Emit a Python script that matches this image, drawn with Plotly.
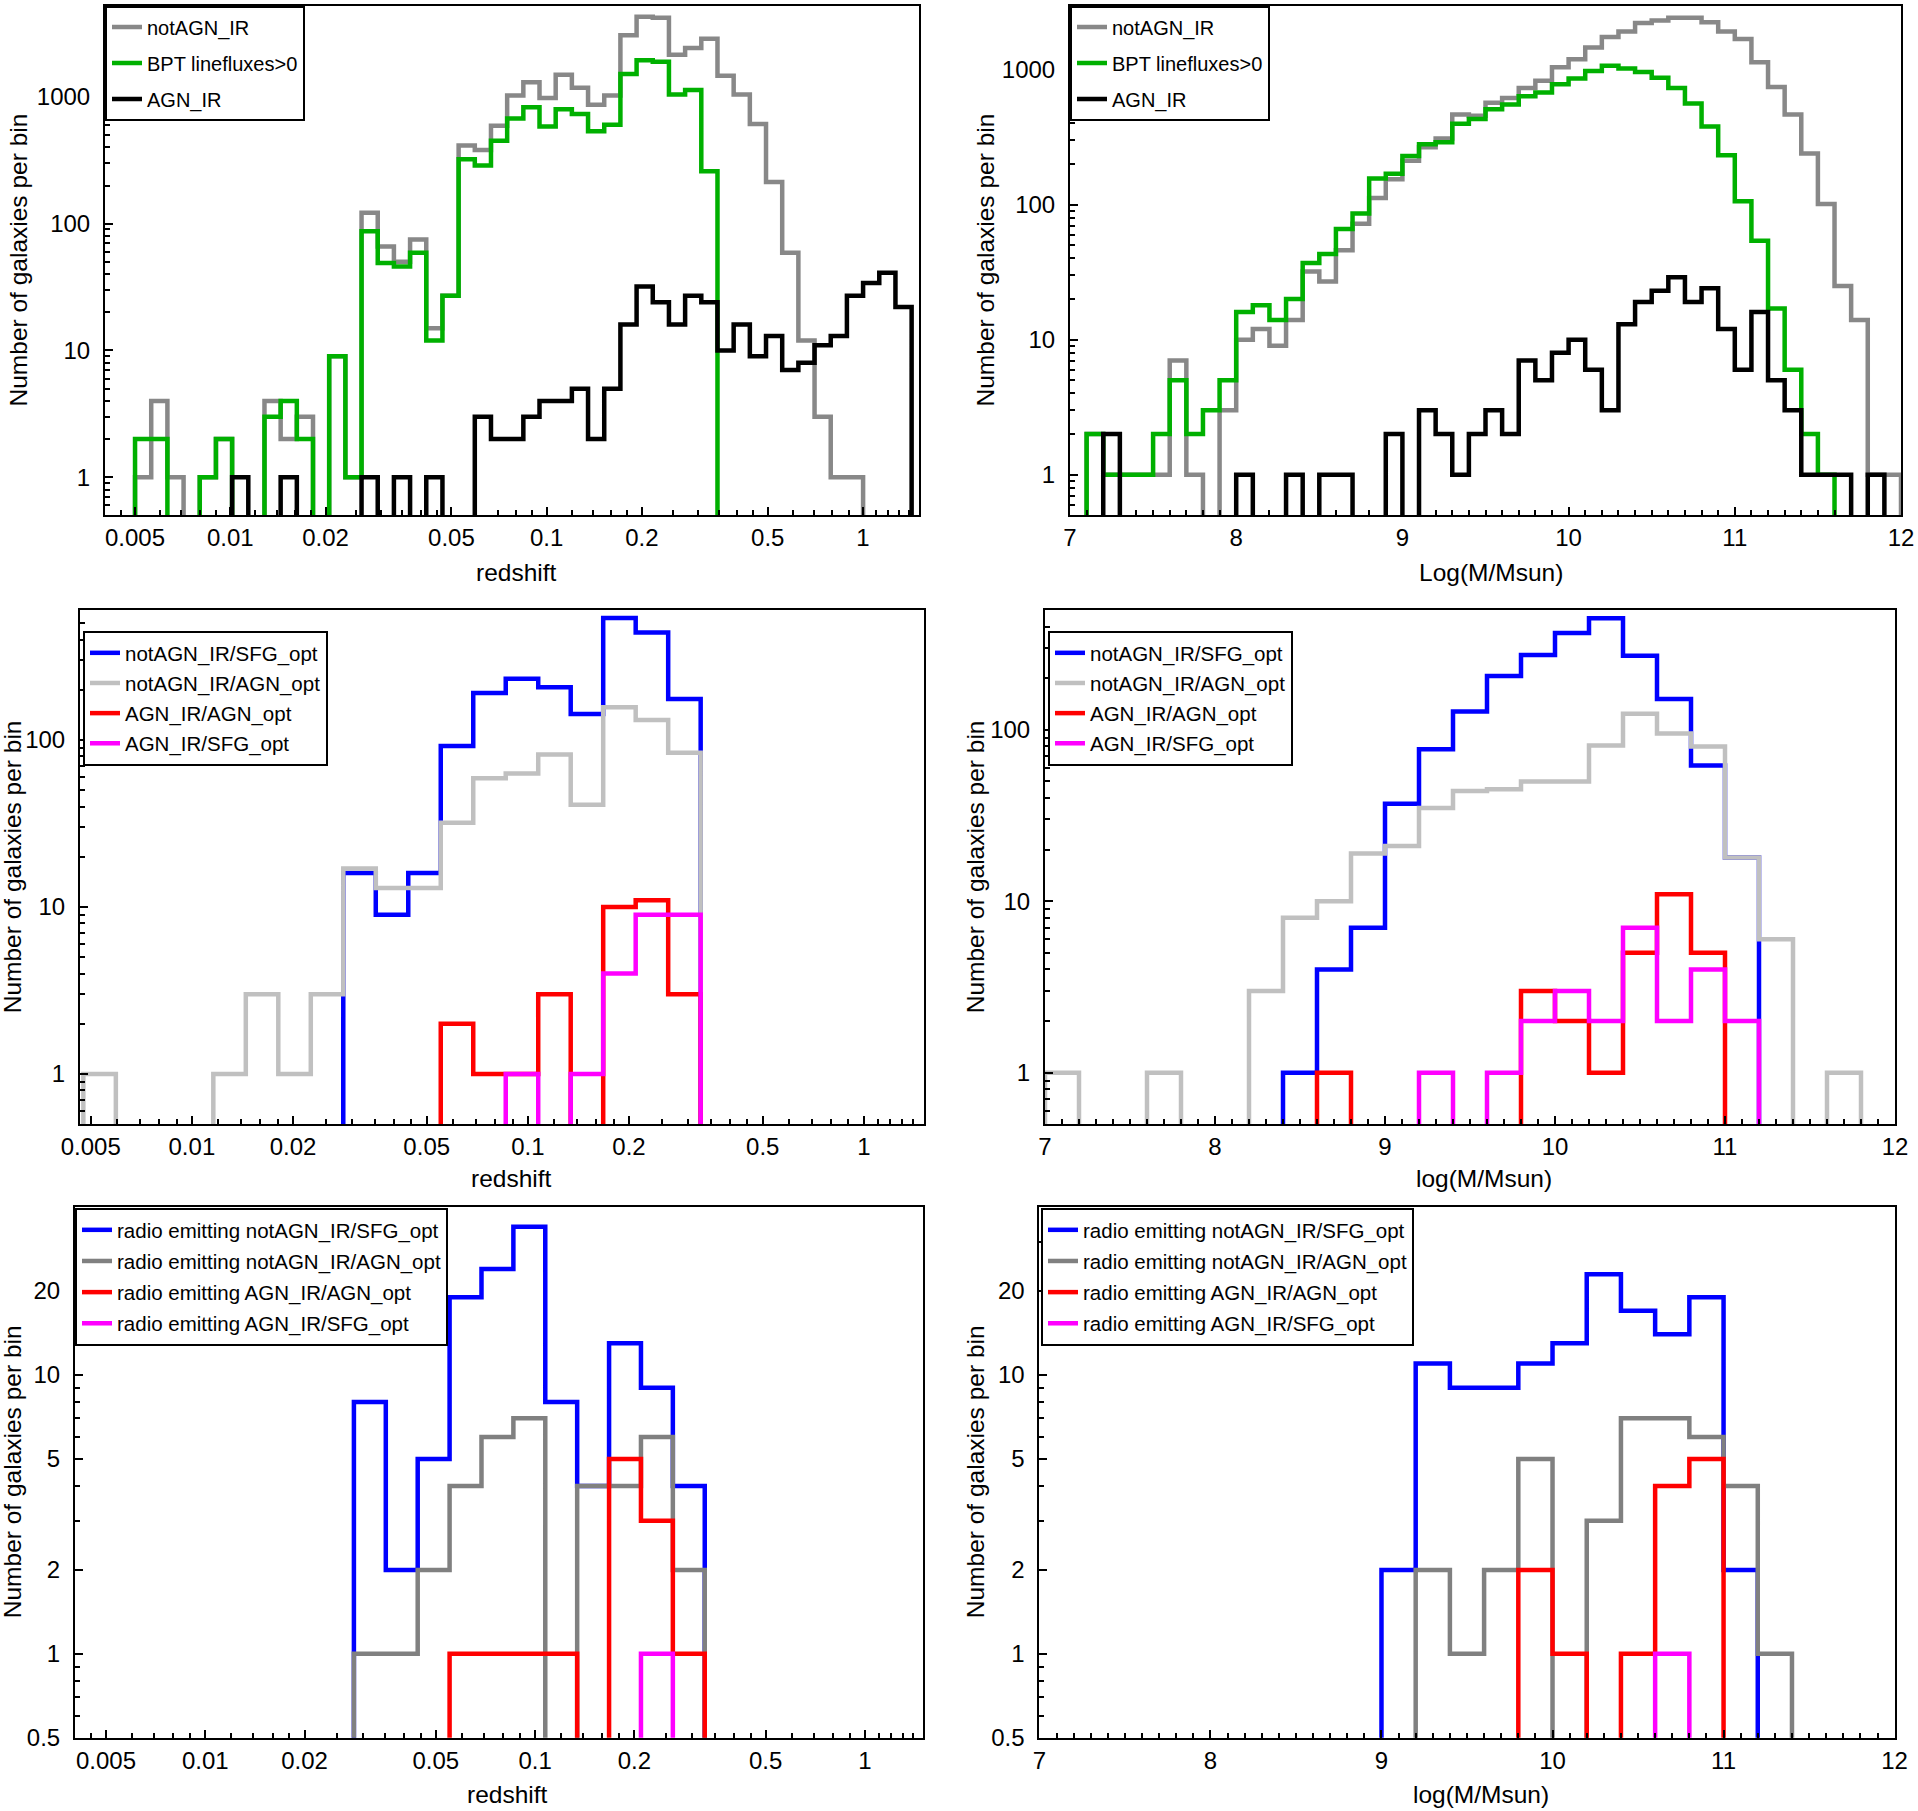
import numpy as np
import plotly.graph_objects as go

W, H = 1918, 1811

# ---------------- data ----------------
# redshift bins (log10 edges): top row 48 narrow bins, lower rows 19 wide bins
z_edges_fine = np.log10(0.005) + 0.05114 * np.arange(49)
z_edges_wide = -2.323 + 0.0967 * np.arange(20)
# stellar mass bins
m_edges_fine = np.round(7.0 + 0.1 * np.arange(51), 2)
m_edges_wide = np.round(7.0 + 0.2 * np.arange(26), 2)

# top left: redshift
z_notagn_ir = [1, 4, 1, 0, 1, 2, 0, 0, 4, 2, 3, 0, 9, 1, 122, 66, 50, 75, 15, 27,
               414, 382, 592, 1026, 1306, 979, 1496, 1183, 867, 1026, 3070, 4296,
               4209, 2148, 2426, 2870, 1466, 1047, 612, 213, 59, 12, 3, 1, 1, 0, 0, 0]
z_bpt = [2, 2, 0, 0, 1, 2, 0, 0, 3, 4, 2, 0, 9, 1, 87, 49, 46, 59, 12, 27,
         323, 288, 452, 677, 827, 584, 800, 734, 535, 604, 1517, 1945,
         1893, 1047, 1135, 259, 0, 0, 0, 0, 0, 0, 0, 0, 0, 0, 0, 0]
z_agn_ir = [0, 0, 0, 0, 0, 0, 1, 0, 0, 1, 0, 0, 0, 0, 1, 0, 1, 0, 1, 0,
            0, 3, 2, 2, 3, 4, 4, 5, 2, 5, 16, 32, 24, 16, 27, 24, 10, 16,
            9, 13, 7, 8, 11, 13, 27, 34, 41, 22]

# top right: mass
m_notagn_ir = [0, 2, 1, 1, 1, 1, 7, 1, 0, 3, 10, 12, 9, 14, 32, 27, 46, 72, 112, 154,
               211, 266, 308, 464, 455, 567, 615, 729, 827, 1038, 1192, 1458, 1739,
               1911, 2208, 2308, 2413, 2413, 2239, 1911, 1686, 1133, 743, 464, 239,
               101, 25, 14, 1, 1]
m_bpt = [0, 2, 1, 1, 1, 2, 5, 2, 3, 5, 16, 18, 14, 20, 37, 43, 66, 86, 156, 169,
         229, 280, 289, 396, 430, 509, 550, 635, 676, 777, 859, 975, 1065, 1019,
         957, 870, 729, 560, 379, 232, 106, 54, 17, 6, 2, 1, 0, 0, 0, 0]
m_agn_ir = [0, 0, 2, 0, 0, 0, 0, 0, 0, 0, 1, 0, 0, 1, 0, 1, 1, 0, 0, 2,
            0, 3, 2, 1, 2, 3, 2, 7, 5, 8, 10, 6, 3, 13, 19, 23, 29, 19, 24, 12,
            6, 16, 5, 3, 1, 1, 1, 0, 1, 0]

# middle row
z_sfg_opt = [0, 0, 0, 0, 0, 0, 0, 0, 16, 9, 16, 92, 191, 233, 207, 143, 538, 440, 176]
z_agn_opt = [1, 0, 0, 0, 1, 3, 1, 3, 17, 13, 13, 32, 59, 63, 82, 41, 157, 132, 84]
z_agnir_agnopt = [0, 0, 0, 0, 0, 0, 0, 0, 0, 0, 0, 2, 1, 1, 3, 0, 10, 11, 3]
z_agnir_sfgopt = [0, 0, 0, 0, 0, 0, 0, 0, 0, 0, 0, 0, 0, 1, 0, 1, 4, 9, 9]

m_sfg_opt = [0, 0, 0, 0, 0, 0, 0, 1, 4, 7, 37, 77, 128, 206, 273, 367, 447, 270, 151, 62, 18, 0, 0, 0, 0]
m_agn_opt = [1, 0, 0, 1, 0, 0, 3, 8, 10, 19, 21, 35, 44, 45, 50, 50, 81, 124, 95, 80, 18, 6, 0, 1, 0]
m_agnir_agnopt = [0, 0, 0, 0, 0, 0, 0, 0, 1, 0, 0, 0, 0, 0, 3, 2, 1, 5, 11, 5, 0, 0, 0, 0, 0]
m_agnir_sfgopt = [0, 0, 0, 0, 0, 0, 0, 0, 0, 0, 0, 1, 0, 1, 2, 3, 2, 7, 2, 4, 2, 0, 0, 0, 0]

# bottom row: radio emitting
z_radio_sfg = [0, 0, 0, 0, 0, 0, 0, 0, 8, 2, 5, 19, 24, 34, 8, 4, 13, 9, 4]
z_radio_agn = [0, 0, 0, 0, 0, 0, 0, 0, 1, 1, 2, 4, 6, 7, 0, 4, 4, 6, 2]
z_radio_agnir_agn = [0, 0, 0, 0, 0, 0, 0, 0, 0, 0, 0, 1, 1, 1, 1, 0, 5, 3, 1]
z_radio_agnir_sfg = [0, 0, 0, 0, 0, 0, 0, 0, 0, 0, 0, 0, 0, 0, 0, 0, 0, 1, 0]

m_radio_sfg = [0, 0, 0, 0, 0, 0, 0, 0, 0, 0, 2, 11, 9, 9, 11, 13, 23, 17, 14, 19, 2, 0, 0, 0, 0]
m_radio_agn = [0, 0, 0, 0, 0, 0, 0, 0, 0, 0, 0, 2, 1, 2, 5, 0, 3, 7, 7, 6, 4, 1, 0, 0, 0]
m_radio_agnir_agn = [0, 0, 0, 0, 0, 0, 0, 0, 0, 0, 0, 0, 0, 0, 2, 1, 0, 1, 4, 5, 0, 0, 0, 0, 0]
m_radio_agnir_sfg = [0, 0, 0, 0, 0, 0, 0, 0, 0, 0, 0, 0, 0, 0, 0, 0, 0, 0, 1, 0, 0, 0, 0, 0, 0]

z_tickvals = [0.005, 0.01, 0.02, 0.05, 0.1, 0.2, 0.5, 1]
z_ticktext = ["0.005", "0.01", "0.02", "0.05", "0.1", "0.2", "0.5", "1"]
z_minor = [0.0045, 0.006, 0.007, 0.008, 0.009, 0.012, 0.014, 0.016, 0.018,
           0.025, 0.03, 0.035, 0.04, 0.045, 0.06, 0.07, 0.08, 0.09,
           0.12, 0.14, 0.16, 0.18, 0.25, 0.3, 0.35, 0.4, 0.45,
           0.6, 0.7, 0.8, 0.9, 1.1, 1.2, 1.3, 1.4]
m_tickvals = [7, 8, 9, 10, 11, 12]
n_ticks_big = [1, 10, 100, 1000]
n_ticks_mid = [1, 10, 100]
n_ticks_small = [0.5, 1, 2, 5, 10, 20]
n_minor = [m * 10 ** e for e in range(-1, 4) for m in range(2, 10)]
n_minor_small = [0.6, 0.7, 0.8, 0.9, 3, 4, 6, 7, 8, 9, 30]

GREY_TOP = "#888888"
GREEN = "#00b000"
BLUE = "#0000ff"
LGREY = "#c0c0c0"
GREY_BOT = "#808080"
RED = "#ff0000"
MAGENTA = "#ff00ff"

FONT = "Liberation Sans, Arial, Helvetica, sans-serif"
FLOOR = 1e-3  # empty bins drop below the axis


def step(edges, counts):
    xs = [edges[0]] + list(edges)
    ys = [FLOOR] + [c if c > 0 else FLOOR for c in counts] + [FLOOR]
    return xs, ys


def px_x(p):
    return p / W


def px_y(p):
    return 1 - p / H


panels = [
    dict(kind="z", edges=10 ** z_edges_fine, box=(105, 919, 5.5, 515.4),
         xr=[-2.396, 0.177], yr=[-0.301, 3.721], yt=n_ticks_big, ym=n_minor,
         leg=(105, 5.5), lfont=20, lgap=7, xtitle="redshift", xt_pos=(516, 572), yt_x=18,
         series=[("notAGN_IR", z_notagn_ir, GREY_TOP), ("BPT linefluxes>0", z_bpt, GREEN),
                 ("AGN_IR", z_agn_ir, "black")]),
    dict(kind="m", edges=m_edges_fine, box=(1070, 1901, 5.5, 515.4),
         xr=[7, 12], yr=[-0.301, 3.474], yt=n_ticks_big, ym=n_minor,
         leg=(1070, 5.5), lfont=20, lgap=7, xtitle="Log(M/Msun)", xt_pos=(1491, 572), yt_x=985,
         series=[("notAGN_IR", m_notagn_ir, GREY_TOP), ("BPT linefluxes>0", m_bpt, GREEN),
                 ("AGN_IR", m_agn_ir, "black")]),
    dict(kind="z", edges=10 ** z_edges_wide, box=(80, 924, 610.3, 1124.3),
         xr=[-2.333, 0.179], yr=[-0.301, 2.777], yt=n_ticks_mid, ym=n_minor,
         leg=(83, 631), lfont=20.5, lgap=0.5, xtitle="redshift", xt_pos=(511, 1178), yt_x=12,
         series=[("notAGN_IR/SFG_opt", z_sfg_opt, BLUE), ("notAGN_IR/AGN_opt", z_agn_opt, LGREY),
                 ("AGN_IR/AGN_opt", z_agnir_agnopt, RED), ("AGN_IR/SFG_opt", z_agnir_sfgopt, MAGENTA)]),
    dict(kind="m", edges=m_edges_wide, box=(1045, 1895, 610.3, 1124.3),
         xr=[7, 12], yr=[-0.301, 2.697], yt=n_ticks_mid, ym=n_minor,
         leg=(1048, 631), lfont=20.5, lgap=0.5, xtitle="log(M/Msun)", xt_pos=(1484, 1178), yt_x=975,
         series=[("notAGN_IR/SFG_opt", m_sfg_opt, BLUE), ("notAGN_IR/AGN_opt", m_agn_opt, LGREY),
                 ("AGN_IR/AGN_opt", m_agnir_agnopt, RED), ("AGN_IR/SFG_opt", m_agnir_sfgopt, MAGENTA)]),
    dict(kind="z", edges=10 ** z_edges_wide, box=(75, 923, 1206.6, 1737.8),
         xr=[-2.395, 0.176], yr=[-0.301, 1.604], yt=n_ticks_small, ym=n_minor_small,
         leg=(75, 1208), lfont=20.5, lgap=1.5, xtitle="redshift", xt_pos=(507, 1794), yt_x=12,
         series=[("radio emitting notAGN_IR/SFG_opt", z_radio_sfg, BLUE),
                 ("radio emitting notAGN_IR/AGN_opt", z_radio_agn, GREY_BOT),
                 ("radio emitting AGN_IR/AGN_opt", z_radio_agnir_agn, RED),
                 ("radio emitting AGN_IR/SFG_opt", z_radio_agnir_sfg, MAGENTA)]),
    dict(kind="m", edges=m_edges_wide, box=(1039.4, 1894.6, 1206.6, 1737.8),
         xr=[7, 12], yr=[-0.301, 1.604], yt=n_ticks_small, ym=n_minor_small,
         leg=(1041, 1208), lfont=20.5, lgap=1.5, xtitle="log(M/Msun)", xt_pos=(1481, 1794), yt_x=975,
         series=[("radio emitting notAGN_IR/SFG_opt", m_radio_sfg, BLUE),
                 ("radio emitting notAGN_IR/AGN_opt", m_radio_agn, GREY_BOT),
                 ("radio emitting AGN_IR/AGN_opt", m_radio_agnir_agn, RED),
                 ("radio emitting AGN_IR/SFG_opt", m_radio_agnir_sfg, MAGENTA)]),
]

fig = go.Figure()
layout = {}
annotations = []

for i, p in enumerate(panels, start=1):
    sfx = "" if i == 1 else str(i)
    leg_name = "legend" + sfx
    for name, counts, color in p["series"]:
        xs, ys = step(p["edges"], counts)
        fig.add_trace(go.Scatter(
            x=xs, y=ys, mode="lines", name=name,
            line=dict(color=color, width=4.5, shape="hv"),
            xaxis="x" + sfx, yaxis="y" + sfx, legend=leg_name,
            legendgroup=f"{i}-{name}", hoverinfo="skip",
        ))

    x0, x1, y0, y1 = p["box"]
    xaxis = dict(
        domain=[px_x(x0), px_x(x1)], anchor="y" + sfx, range=p["xr"],
        showline=True, linecolor="black", linewidth=2, mirror=True,
        showgrid=False, zeroline=False, ticks="inside", ticklen=8, tickwidth=2,
        tickcolor="black", tickfont=dict(family=FONT, size=24, color="black"),
        ticklabelstandoff=0, automargin=False,
    )
    if p["kind"] == "z":
        xaxis.update(type="log", tickmode="array", tickvals=z_tickvals, ticktext=z_ticktext,
                     minor=dict(tickmode="array", tickvals=z_minor, ticks="inside",
                                ticklen=5, tickwidth=1.5, tickcolor="black"))
    else:
        xaxis.update(type="linear", tickmode="array", tickvals=m_tickvals,
                     minor=dict(dtick=0.1, tick0=7, ticks="inside", ticklen=5,
                                tickwidth=1.5, tickcolor="black"))
    yaxis = dict(
        domain=[px_y(y1), px_y(y0)], anchor="x" + sfx, type="log", range=p["yr"],
        showline=True, linecolor="black", linewidth=2, mirror=True,
        showgrid=False, zeroline=False, ticks="inside", ticklen=8, tickwidth=2,
        tickcolor="black", tickmode="array", tickvals=p["yt"],
        ticktext=[f"{v:g}" for v in p["yt"]],
        tickfont=dict(family=FONT, size=24, color="black"), ticklabelstandoff=8,
        minor=dict(tickmode="array", tickvals=p["ym"], ticks="inside", ticklen=5,
                   tickwidth=1.5, tickcolor="black"),
        automargin=False,
    )
    layout["xaxis" + sfx] = xaxis
    layout["yaxis" + sfx] = yaxis

    lx, ly = p["leg"]
    layout[leg_name] = dict(
        x=px_x(lx), y=px_y(ly), xanchor="left", yanchor="top",
        bgcolor="white", bordercolor="black", borderwidth=2,
        font=dict(family=FONT, size=p["lfont"], color="black"),
        traceorder="grouped", tracegroupgap=p["lgap"], itemwidth=30,
    )

    tx, ty = p["xt_pos"]
    annotations.append(dict(
        text=p["xtitle"], x=px_x(tx), y=px_y(ty), xref="paper", yref="paper",
        showarrow=False, xanchor="center", yanchor="middle",
        font=dict(family=FONT, size=24.5, color="black"),
    ))
    annotations.append(dict(
        text="Number of galaxies per bin", x=px_x(p["yt_x"]), y=px_y((y0 + y1) / 2),
        xref="paper", yref="paper", showarrow=False, textangle=-90,
        xanchor="center", yanchor="middle",
        font=dict(family=FONT, size=24.5, color="black"),
    ))

fig.update_layout(
    width=W, height=H, template="none",
    margin=dict(l=0, r=0, t=0, b=0),
    paper_bgcolor="white", plot_bgcolor="white",
    annotations=annotations,
    **layout,
)

# the page's default body margin would push the figure off the window
fig.write_html(
    "out.html",
    config={"displayModeBar": False},
    post_script="document.body.style.margin='0';document.body.style.overflow='hidden';",
)
